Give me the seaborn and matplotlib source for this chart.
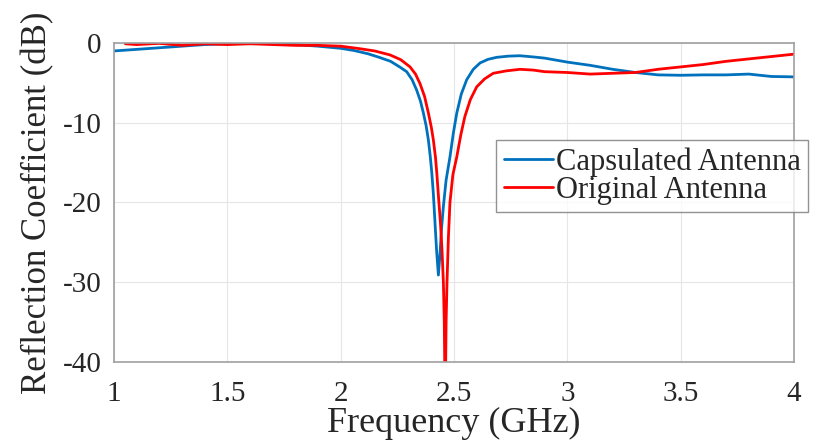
import matplotlib
matplotlib.use("Agg")
import matplotlib.pyplot as plt
import seaborn as sns
import pandas as pd

freq_cap = [1.00, 1.10, 1.20, 1.30, 1.40, 1.50, 1.60, 1.70, 1.80, 1.90, 2.00, 2.06, 2.12, 2.17, 2.22,
            2.26, 2.291, 2.315, 2.335, 2.352, 2.365, 2.377, 2.387, 2.395, 2.402, 2.409, 2.416, 2.423,
            2.431, 2.438, 2.445, 2.453, 2.465, 2.482, 2.497, 2.512, 2.532, 2.556, 2.585, 2.615,
            2.65, 2.688, 2.74, 2.79, 2.85, 2.90, 3.00, 3.10, 3.20, 3.30, 3.40, 3.50, 3.60, 3.70,
            3.80, 3.90, 4.00]
s11_cap = [-1.0, -0.8, -0.6, -0.4, -0.2, -0.1, -0.05, -0.1, -0.2, -0.4, -0.67, -0.95, -1.35, -1.8, -2.3,
           -3.0, -3.6, -4.6, -5.9, -7.3, -8.8, -10.4, -12.2, -14.2, -16.3, -19.0, -22.5, -26.0,
           -29.1, -26.5, -23.2, -20.5, -17.2, -14.3, -11.3, -8.8, -6.4, -4.6, -3.3, -2.5,
           -2.05, -1.8, -1.65, -1.6, -1.75, -1.9, -2.4, -2.8, -3.3, -3.7, -4.0, -4.05, -4.0, -4.0,
           -3.9, -4.2, -4.25]

freq_org = [1.05, 1.10, 1.20, 1.30, 1.40, 1.50, 1.60, 1.70, 1.80, 1.90, 2.00, 2.08, 2.15, 2.218, 2.265,
            2.306, 2.33, 2.35, 2.37, 2.387, 2.40, 2.409, 2.418, 2.424, 2.432, 2.440, 2.447, 2.453,
            2.457, 2.461, 2.465, 2.469, 2.475, 2.482, 2.495, 2.512, 2.53, 2.548, 2.572, 2.60,
            2.635, 2.673, 2.73, 2.791, 2.85, 2.90, 3.00, 3.10, 3.20, 3.30, 3.40, 3.50, 3.60, 3.70,
            3.80, 3.90, 4.00]
s11_org = [-0.1, -0.2, -0.05, -0.3, -0.1, -0.2, -0.1, -0.2, -0.3, -0.3, -0.4, -0.7, -1.0, -1.5, -2.1,
           -3.0, -3.9, -5.1, -6.7, -8.8, -10.6, -12.2, -14.3, -16.3, -19.5, -22.5, -26.0, -30.0,
           -35.0, -46.0, -35.0, -30.0, -24.5, -20.0, -16.5, -14.3, -11.5, -9.2, -7.1, -5.5,
           -4.5, -3.8, -3.5, -3.3, -3.4, -3.6, -3.7, -3.9, -3.8, -3.7, -3.3, -3.0, -2.7, -2.3,
           -2.0, -1.7, -1.4]

series_names = ["Capsulated Antenna", "Original Antenna"]
x_ticks = [1, 1.5, 2, 2.5, 3, 3.5, 4]
x_tick_labels = ["1", "1.5", "2", "2.5", "3", "3.5", "4"]
y_ticks = [0, -10, -20, -30, -40]
y_tick_labels = ["0", "-10", "-20", "-30", "-40"]

df = pd.concat([
    pd.DataFrame({"f": freq_cap, "s": s11_cap, "series": series_names[0]}),
    pd.DataFrame({"f": freq_org, "s": s11_org, "series": series_names[1]}),
])

sns.set_style("white")
plt.rcParams["font.family"] = ["Liberation Serif", "DejaVu Serif"]

fig = plt.figure(figsize=(8.28, 4.44), dpi=100)
ax = fig.add_axes([0.1377, 0.1847, 0.8213, 0.7185])

sns.lineplot(data=df, x="f", y="s", hue="series", palette=["#0072BD", "#FF0000"],
             linewidth=2.0, ax=ax, sort=False, estimator=None)

ax.set_xlim(1, 4)
ax.set_ylim(-40, 0)
ax.set_xticks(x_ticks)
ax.set_xticklabels(x_tick_labels)
ax.set_yticks(y_ticks)
ax.set_yticklabels(y_tick_labels)
ax.grid(True, color="#e6e6e6", linewidth=0.8)
ax.set_axisbelow(True)
for sp in ax.spines.values():
    sp.set_color("#a0a0a0")
    sp.set_linewidth(1.2)
ax.tick_params(direction="in", length=5, color="#404040", labelsize=21)
ax.tick_params(axis="x", pad=14)
ax.tick_params(axis="y", pad=9)
ax.set_xlabel("Frequency (GHz)", fontsize=26, labelpad=0)
ax.set_ylabel("Reflection Coefficient (dB)", fontsize=25, labelpad=6)

leg = ax.legend(loc="upper left", bbox_to_anchor=(0.562, 0.696), fontsize=22,
                frameon=True, fancybox=False, handlelength=1.6, handletextpad=0.1,
                borderpad=0.25, labelspacing=-0.05, borderaxespad=0)
leg.get_frame().set_edgecolor("#777777")
leg.get_frame().set_linewidth(1.0)
for line in leg.get_lines():
    line.set_linewidth(2.0)

fig.savefig("out.png", dpi=100)
